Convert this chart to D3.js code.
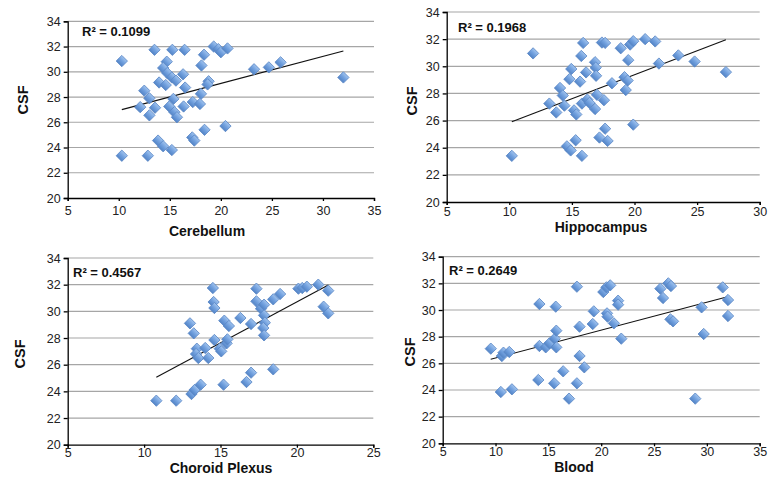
<!DOCTYPE html>
<html>
<head>
<meta charset="utf-8">
<script src="https://cdn.jsdelivr.net/npm/d3@7"></script>
<style>
body { margin: 0; background: #fff; }
svg { display: block; font-family: "Liberation Sans", Arial, sans-serif; }
</style>
</head>
<body>
<div id="chartdiv"></div>
<script>
// values, one array per panel
var cerebellum = [
 [10.3,30.85],[13.5,31.74],[15.25,31.74],[16.45,31.74],[18.35,31.35],[19.3,32.0],[19.75,31.8],[20.0,31.55],
 [20.65,31.85],[18.1,30.5],[14.7,30.8],[14.35,30.3],[14.75,29.9],[15.2,29.55],[16.3,29.8],[13.95,29.15],
 [14.6,28.95],[15.6,29.3],[16.5,28.75],[18.8,29.25],[18.7,29.0],[18.05,28.25],[12.5,28.5],[13.0,27.9],
 [15.35,27.85],[12.1,27.2],[13.55,27.15],[13.0,26.55],[14.95,27.25],[15.45,26.8],[15.7,26.4],[16.35,27.25],
 [17.25,27.6],[17.95,27.45],[13.85,24.55],[14.35,24.1],[15.2,23.8],[17.2,24.8],[17.4,24.55],[18.4,25.4],
 [20.45,25.7],[10.3,23.35],[12.85,23.35],[23.25,30.2],[24.7,30.35],[25.85,30.75],[32.0,29.55]
];
var hippocampus = [
 [10.2,23.4],[11.9,30.95],[13.2,27.25],[13.75,26.6],[14.05,28.4],[14.27,27.85],[14.4,27.1],[14.6,24.1],
 [14.8,29.05],[14.95,29.8],[14.9,23.8],[15.17,26.75],[15.3,24.55],[15.35,26.45],[15.65,28.87],[15.75,30.76],
 [15.9,31.72],[15.8,23.4],[15.8,27.25],[16.13,29.55],[16.23,27.55],[16.4,27.3],[16.85,30.3],[16.9,29.9],
 [16.93,29.3],[16.85,26.85],[17.0,27.9],[17.2,24.75],[17.4,31.75],[17.65,31.72],[17.56,27.5],[17.65,25.4],
 [17.85,24.5],[18.2,28.75],[18.9,31.33],[19.2,29.2],[19.45,28.95],[19.3,28.25],[19.5,30.45],[19.65,31.6],
 [19.9,31.85],[19.9,25.7],[20.85,32.0],[21.65,31.83],[21.95,30.2],[23.5,30.8],[24.8,30.35],[27.3,29.57]
];
var choroid = [
 [10.8,23.3],[12.1,23.3],[13.1,23.8],[13.3,24.1],[13.7,24.5],[15.2,24.5],[16.7,24.7],[17.0,25.4],[18.45,25.65],
 [13.0,29.1],[13.25,28.35],[13.45,27.2],[13.4,26.8],[13.55,26.5],[14.0,27.25],[14.2,26.5],[14.6,27.85],
 [14.95,27.2],[15.05,27.0],[15.25,29.3],[15.55,28.9],[15.4,27.6],[15.45,27.9],[16.3,29.5],[17.0,29.05],
 [14.5,31.75],[14.55,30.7],[14.6,30.25],
 [17.35,31.7],[17.35,30.75],[17.65,30.2],[17.85,30.5],[17.85,29.7],[17.9,29.15],[17.8,28.75],[17.85,28.2],
 [18.45,30.9],[18.9,31.3],[20.1,31.7],[20.35,31.75],[20.65,31.85],[21.4,32.0],[22.05,31.55],[21.75,30.35],[22.05,29.85]
];
var blood = [
 [9.55,27.1],[10.6,26.55],[10.75,26.8],[11.3,26.85],[10.5,23.85],[11.55,24.05],
 [14.15,30.45],[15.7,30.25],[17.7,31.75],
 [14.15,27.3],[14.75,27.2],[15.1,27.5],[15.6,27.85],[15.75,27.2],[15.75,28.45],[17.95,28.75],[19.3,29.9],[19.2,28.95],
 [17.95,26.55],[18.4,25.7],[16.4,25.4],[14.05,24.75],[15.55,24.5],[17.7,24.5],[16.95,23.35],
 [20.2,31.35],[20.5,31.7],[20.85,31.85],[20.55,29.75],[20.6,29.5],[21.2,29.0],[21.6,30.7],[21.6,30.4],[21.9,27.85],
 [25.6,31.6],[26.35,32.0],[26.6,31.8],[25.85,30.9],[26.55,29.3],[26.8,29.15],
 [29.5,30.2],[29.7,28.2],[28.9,23.35],[31.5,31.7],[32.0,30.75],[32.0,29.55]
];

// trend line end points as drawn [x1, y1, x2, y2]
var trendCerebellum = [10.3, 27.0, 32.0, 31.65];
var trendHippocampus = [10.2, 25.92, 27.3, 31.95];
var trendChoroid = [10.8, 25.05, 22.06, 31.97];
var trendBlood = [9.54, 26.3, 31.96, 31.0];

var r2Labels = ["R² = 0.1099", "R² = 0.1968", "R² = 0.4567", "R² = 0.2649"];
var xTitles = ["Cerebellum", "Hippocampus", "Choroid Plexus", "Blood"];
var xDomains = [[5, 35], [5, 30], [5, 25], [5, 35]];
var yTicks = [20, 22, 24, 26, 28, 30, 32, 34];

var svg = d3.select('#chartdiv')
 .append('svg')
 .attr('width', 768)
 .attr('height', 487);

var defs = svg.append('defs');
var grad = defs.append('linearGradient')
 .attr('id', 'dia')
 .attr('x1', 0).attr('y1', 0).attr('x2', 0).attr('y2', 1);
grad.append('stop').attr('offset', '0%').attr('stop-color', '#a0c3ee');
grad.append('stop').attr('offset', '50%').attr('stop-color', '#71a0de');
grad.append('stop').attr('offset', '100%').attr('stop-color', '#5384c6');

// layout of each panel (pixels)
var panels = [
 {data: cerebellum, trend: trendCerebellum, left: 67.7, right: 374, top: 21.3, bottom: 198,
  pad: 5, r2: [82, 36], csf: [23, 100], xt: [207, 236]},
 {data: hippocampus, trend: trendHippocampus, left: 446.7, right: 759.7, top: 12, bottom: 202,
  pad: 2, r2: [458, 32], csf: [412, 101], xt: [601, 231.5]},
 {data: choroid, trend: trendChoroid, left: 67.7, right: 373.3, top: 258, bottom: 444.7,
  pad: 0, r2: [73, 277], csf: [20, 354], xt: [221, 472.5]},
 {data: blood, trend: trendBlood, left: 442.7, right: 759.7, top: 256.7, bottom: 443.3,
  pad: 1, r2: [449, 275], csf: [410, 352], xt: [574, 472]}
];

panels.forEach(function(p, i) {
 var xScale = d3.scaleLinear().domain(xDomains[i]).range([p.left, p.right]);
 var yScale = d3.scaleLinear().domain([20, 34]).range([p.bottom, p.top]);
 var g = svg.append('g');

 // grid lines
 g.selectAll('.grid')
  .data(yTicks.slice(1))
  .enter().append('line')
  .attr('x1', p.left).attr('x2', p.right)
  .attr('y1', function(d) { return yScale(d); })
  .attr('y2', function(d) { return yScale(d); })
  .style('stroke', '#a6a6a6')
  .style('stroke-width', 1.2);

 var yAxis = g.append('g')
  .attr('transform', 'translate(' + p.left + ',0)')
  .call(d3.axisLeft(yScale).tickValues(yTicks).tickSize(4).tickPadding(3));
 var xAxis = g.append('g')
  .attr('transform', 'translate(0,' + p.bottom + ')')
  .call(d3.axisBottom(xScale).ticks(xDomains[i][1] / 5 - 1).tickSize(3).tickPadding(p.pad));

 [yAxis, xAxis].forEach(function(a) {
  a.selectAll('path, line').style('stroke', '#000').style('stroke-width', 1.3);
  a.selectAll('text').style('font-size', '12.5px').style('fill', '#222')
   .style('font-family', '"Liberation Sans", Arial, sans-serif');
 });

 // trend line
 g.append('line')
  .attr('x1', xScale(p.trend[0])).attr('y1', yScale(p.trend[1]))
  .attr('x2', xScale(p.trend[2])).attr('y2', yScale(p.trend[3]))
  .style('stroke', '#111')
  .style('stroke-width', 1.1);

 // diamonds
 g.selectAll('.pt')
  .data(p.data)
  .enter().append('path')
  .attr('d', d3.symbol().type(d3.symbolSquare).size(64))
  .attr('transform', function(d) {
   return 'translate(' + xScale(d[0]) + ',' + yScale(d[1]) + ') rotate(45)';
  })
  .style('fill', 'url(#dia)')
  .style('stroke', '#5b88c6')
  .style('stroke-width', 0.8);

 g.append('text')
  .attr('x', p.r2[0])
  .attr('y', p.r2[1])
  .text(r2Labels[i])
  .style('font-size', '13px')
  .style('font-weight', 'bold')
  .style('fill', '#111');

 g.append('text')
  .attr('x', p.xt[0])
  .attr('y', p.xt[1])
  .attr('text-anchor', 'middle')
  .text(xTitles[i])
  .style('font-size', '14px')
  .style('font-weight', 'bold')
  .style('fill', '#111');

 g.append('text')
  .attr('transform', 'translate(' + (p.csf[0] + 5) + ',' + p.csf[1] + ') rotate(-90)')
  .attr('text-anchor', 'middle')
  .text('CSF')
  .style('font-size', '14.5px')
  .style('font-weight', 'bold')
  .style('fill', '#111');
});
</script>
</body>
</html>
